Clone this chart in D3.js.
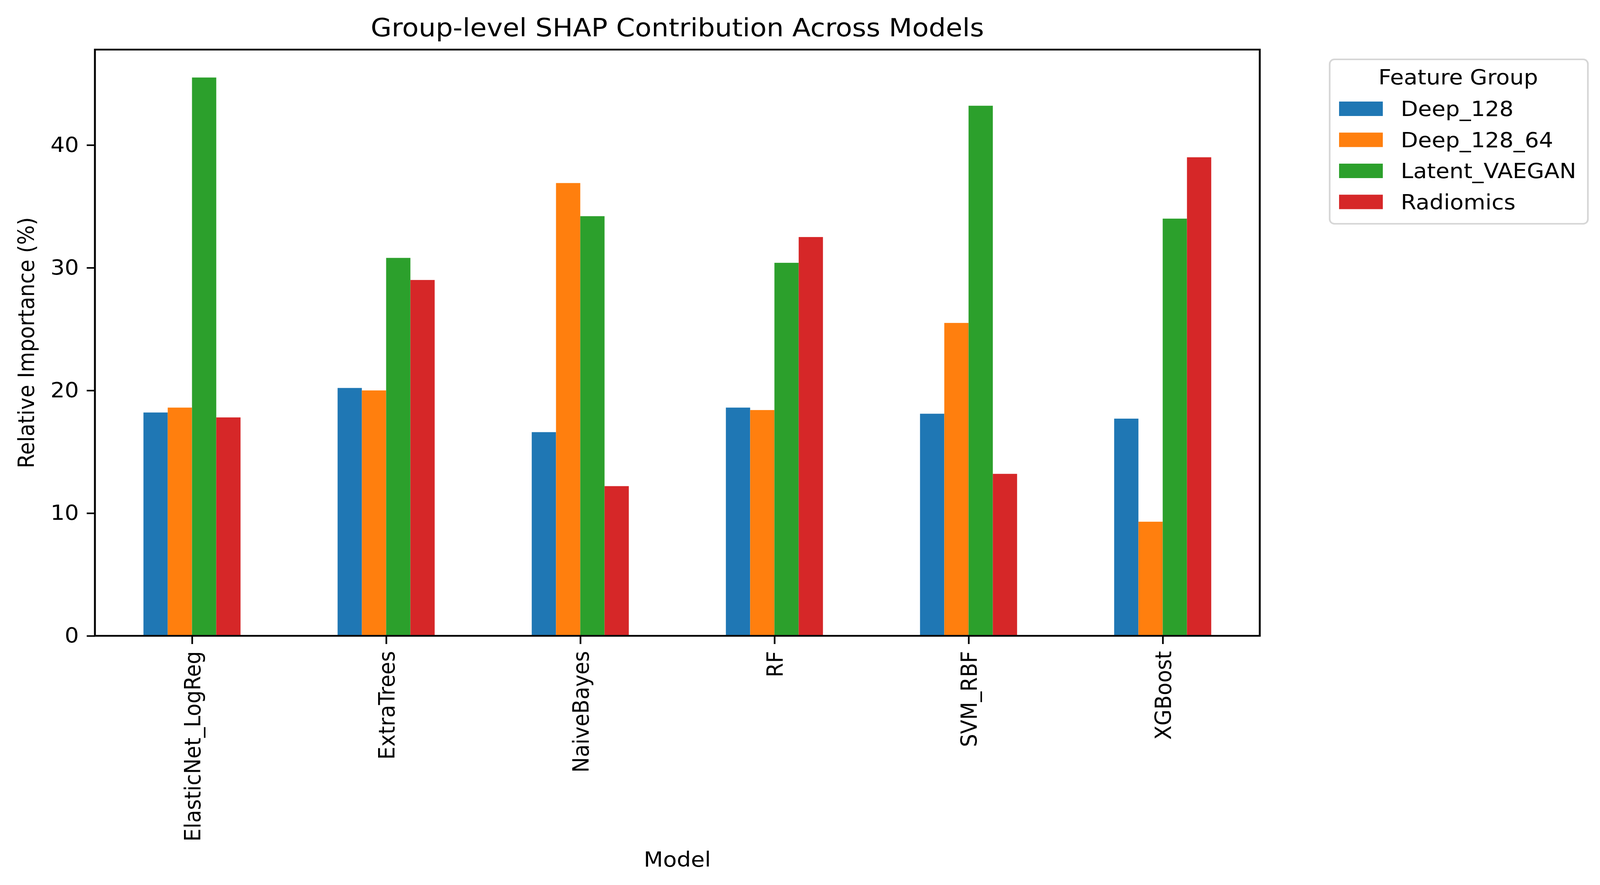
<!DOCTYPE html>
<html>
<head>
<meta charset="utf-8">
<script src="https://cdn.jsdelivr.net/npm/d3@7"></script>
<style>
  body { margin: 0; background: #fff; }
  text { font-family: "DejaVu Sans", sans-serif; fill: #000; }
</style>
</head>
<body>
<svg id="chart"></svg>
<script>
// chart data
const models = ["ElasticNet_LogReg", "ExtraTrees", "NaiveBayes", "RF", "SVM_RBF", "XGBoost"];
const groups = ["Deep_128", "Deep_128_64", "Latent_VAEGAN", "Radiomics"];
const deep128 = [18.2, 20.2, 16.6, 18.6, 18.1, 17.7];
const deep128_64 = [18.6, 20.0, 36.9, 18.4, 25.5, 9.3];
const latentVaegan = [45.5, 30.8, 34.2, 30.4, 43.2, 34.0];
const radiomics = [17.8, 29.0, 12.2, 32.5, 13.2, 39.0];
const yTicks = [0, 10, 20, 30, 40];

const seriesValues = [deep128, deep128_64, latentVaegan, radiomics];
const colors = ["#1f77b4", "#ff7f0e", "#2ca02c", "#d62728"];

// the source picture is stretched sideways, so draw in a narrower box and stretch it
const W = 4100, H = 2266;
const SX = 1.08;
const BW = W / SX;
const px = v => v / SX;

const svg = d3.select('#chart')
    .attr('width', W)
    .attr('height', H)
    .attr('viewBox', `0 0 ${BW} ${H}`)
    .attr('preserveAspectRatio', 'none');

svg.append('rect').attr('width', BW).attr('height', H).attr('fill', '#fff');

const plotLeft = px(243), plotRight = px(3225), plotTop = 127, plotBottom = 1628;
const fs = 53;

const yMax = d3.max(seriesValues.flat()) * 1.05;
const x = d3.scaleLinear().domain([-0.5, models.length - 0.5]).range([plotLeft, plotRight]);
const y = d3.scaleLinear().domain([0, yMax]).range([plotBottom, plotTop]);

const groupWidth = 0.5;
const barW = groupWidth / groups.length;

// bars
groups.forEach((g, s) => {
    svg.append('g')
        .selectAll('rect')
        .data(seriesValues[s])
        .join('rect')
        .attr('x', (d, i) => x(i - groupWidth / 2 + s * barW))
        .attr('width', x(barW) - x(0))
        .attr('y', d => y(d))
        .attr('height', d => y(0) - y(d))
        .attr('fill', colors[s]);
});

// y axis
const yAxis = svg.append('g')
    .attr('transform', `translate(${plotLeft},0)`)
    .call(d3.axisLeft(y).tickValues(yTicks).tickSize(px(21)).tickPadding(px(20)).tickFormat(d3.format('d')));
yAxis.select('.domain').remove();
yAxis.selectAll('line').attr('stroke', '#000').attr('stroke-width', 4);
yAxis.selectAll('text').attr('font-size', fs).attr('font-family', 'DejaVu Sans');

// x axis
const xAxis = svg.append('g')
    .attr('transform', `translate(0,${plotBottom})`)
    .call(d3.axisBottom(x).tickValues(d3.range(models.length)).tickSize(21).tickFormat(i => models[i]));
xAxis.select('.domain').remove();
xAxis.selectAll('line').attr('stroke', '#000').attr('stroke-width', 4);
xAxis.selectAll('text')
    .attr('font-size', fs)
    .attr('font-family', 'DejaVu Sans')
    .attr('text-anchor', 'end')
    .attr('transform', 'rotate(-90)')
    .attr('x', -39)
    .attr('y', 0)
    .attr('dy', '0.36em');

// frame
svg.append('rect')
    .attr('x', plotLeft).attr('y', plotTop)
    .attr('width', plotRight - plotLeft).attr('height', plotBottom - plotTop)
    .attr('fill', 'none').attr('stroke', '#000').attr('stroke-width', 4.5);

// title and axis labels
svg.append('text')
    .attr('x', (plotLeft + plotRight) / 2).attr('y', 93)
    .attr('text-anchor', 'middle').attr('font-size', 64)
    .text('Group-level SHAP Contribution Across Models');

svg.append('text')
    .attr('x', (plotLeft + plotRight) / 2).attr('y', 2219)
    .attr('text-anchor', 'middle').attr('font-size', fs)
    .text('Model');

svg.append('text')
    .attr('transform', `translate(${px(87)},${(plotTop + plotBottom) / 2}) rotate(-90)`)
    .attr('text-anchor', 'middle').attr('font-size', fs)
    .text('Relative Importance (%)');

// legend
const legend = svg.append('g');
legend.append('rect')
    .attr('x', px(3404)).attr('y', 152)
    .attr('width', px(4065) - px(3404)).attr('height', 573 - 152)
    .attr('rx', px(12)).attr('ry', 12)
    .attr('fill', '#fff').attr('stroke', '#d6d6d6').attr('stroke-width', 4);

legend.append('text')
    .attr('x', px(3733)).attr('y', 216)
    .attr('text-anchor', 'middle').attr('font-size', fs)
    .text('Feature Group');

const rowStep = 79.5;
const items = legend.selectAll('.item')
    .data(groups)
    .join('g')
    .attr('class', 'item')
    .attr('transform', (d, i) => `translate(0,${297 + i * rowStep})`);

items.append('rect')
    .attr('x', px(3428)).attr('y', -37)
    .attr('width', px(3540) - px(3428)).attr('height', 37)
    .attr('fill', (d, i) => colors[i]);

items.append('text')
    .attr('x', px(3586)).attr('y', 0)
    .attr('font-size', fs)
    .text(d => d);
</script>
</body>
</html>
